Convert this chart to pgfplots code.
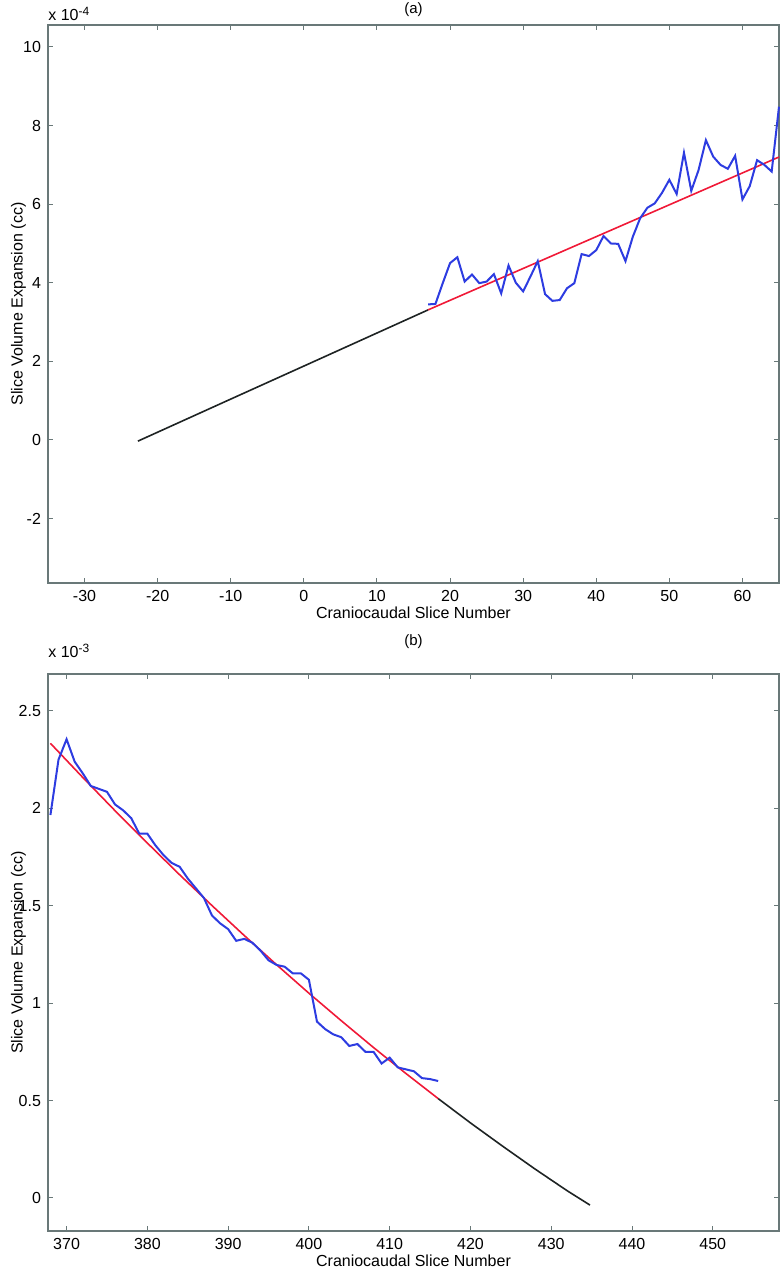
\documentclass[border=0pt]{standalone}
\usepackage{fontspec}
\setmainfont{Liberation Sans}
\usepackage{pgfplots}
\pgfplotsset{compat=1.18}
\definecolor{axgray}{RGB}{105,120,120}
\definecolor{mblue}{RGB}{45,60,225}
\definecolor{mred}{RGB}{240,25,55}
\definecolor{mblack}{RGB}{30,35,35}
\pgfplotsset{
  mystyle/.style={
    scale only axis, width=365.5pt, clip=false,
    axis line style={axgray, line width=0.6pt},
    tick style={axgray, line width=0.5pt},
    tick align=inside, major tick length=2.5pt,
    font=\fontsize{8}{9.6}\selectfont,
    /pgf/number format/assume math mode=true,
    xlabel={Craniocaudal Slice Number},
    ylabel={Slice Volume Expansion (cc)},
    xlabel style={at={(axis description cs:0.5,0)}, anchor=center, yshift=-15pt},
    ylabel style={at={([xshift=-22pt]axis description cs:0,0.5)}, anchor=north},
    title style={font=\fontsize{7.5}{9}\selectfont, inner sep=0pt},
  }
}
\begin{document}
\begin{tikzpicture}
\path[use as bounding box] (0,0) rectangle (390pt,634pt);
% ---------- panel (a) ----------
\begin{axis}[mystyle, at={(24pt,342.5pt)}, anchor=south west, height=279pt,
  xmin=-35, xmax=65, ymin=-3.64, ymax=10.56,
  xtick={-30,-20,...,60}, ytick={-2,0,...,10},
  title={(a)}, title style={yshift=-2pt}]
\addplot[mblack, line width=0.8pt] coordinates {(-22.7,-0.03) (-10,1.04) (0,1.88) (17,3.31)};
\addplot[mred, line width=0.8pt] coordinates {(17,3.31) (65,7.2)};
\addplot[mblue, line width=1pt] coordinates {
(17,3.45) (18,3.46) (19,3.99) (20,4.50) (21,4.65) (22,4.03) (23,4.21) (24,3.99)
(25,4.03) (26,4.22) (27,3.73) (28,4.44) (29,4.00) (30,3.78) (31,4.16) (32,4.55)
(33,3.71) (34,3.54) (35,3.56) (36,3.86) (37,3.99) (38,4.73) (39,4.68) (40,4.83)
(41,5.19) (42,5.00) (43,4.99) (44,4.55) (45,5.17) (46,5.64) (47,5.91) (48,6.02)
(49,6.29) (50,6.62) (51,6.26) (52,7.31) (53,6.34) (54,6.87) (55,7.63) (56,7.21)
(57,7.00) (58,6.90) (59,7.23) (60,6.12) (61,6.46) (62,7.12) (63,7.00) (64,6.83)
(65,8.48)};
\node[anchor=base west, inner sep=0pt] at ([yshift=2pt]rel axis cs:0,1) {x 10\textsuperscript{-4}};
\end{axis}
% ---------- panel (b) ----------
\begin{axis}[mystyle, at={(24pt,18.5pt)}, anchor=south west, height=278.5pt,
  xmin=367.7, xmax=458.2, ymin=-0.17, ymax=2.69,
  xtick={370,380,...,450}, ytick={0,0.5,...,2.5},
  title={(b)}, title style={yshift=6.5pt}]
\addplot[mblack, line width=0.8pt] coordinates {(416,0.510) (420,0.385) (424,0.265) (428,0.148) (432,0.036) (434.8,-0.037)};
\addplot[mred, line width=0.8pt] coordinates {(368,2.334) (372,2.159) (376,1.988) (380,1.822) (384,1.659) (388,1.501) (392,1.347) (396,1.197) (400,1.051) (404,0.910) (408,0.772) (412,0.639) (416,0.510)};
\addplot[mblue, line width=1pt] coordinates {
(368,1.966) (369,2.25) (370,2.355) (371,2.24) (372,2.18) (373,2.115) (374,2.10)
(375,2.085) (376,2.02) (377,1.99) (378,1.95) (379,1.87) (380,1.87) (381,1.81)
(382,1.76) (383,1.72) (384,1.70) (385,1.64) (386,1.59) (387,1.54) (388,1.45)
(389,1.41) (390,1.38) (391,1.32) (392,1.33) (393,1.31) (394,1.27) (395,1.22)
(396,1.196) (397,1.187) (398,1.153) (399,1.153) (400,1.12) (401,0.905)
(402,0.867) (403,0.84) (404,0.825) (405,0.78) (406,0.79) (407,0.75) (408,0.75)
(409,0.69) (410,0.72) (411,0.67) (412,0.66) (413,0.65) (414,0.615) (415,0.61)
(416,0.60)};
\node[anchor=base west, inner sep=0pt] at ([yshift=8pt]rel axis cs:0,1) {x 10\textsuperscript{-3}};
\end{axis}
\end{tikzpicture}
\end{document}
